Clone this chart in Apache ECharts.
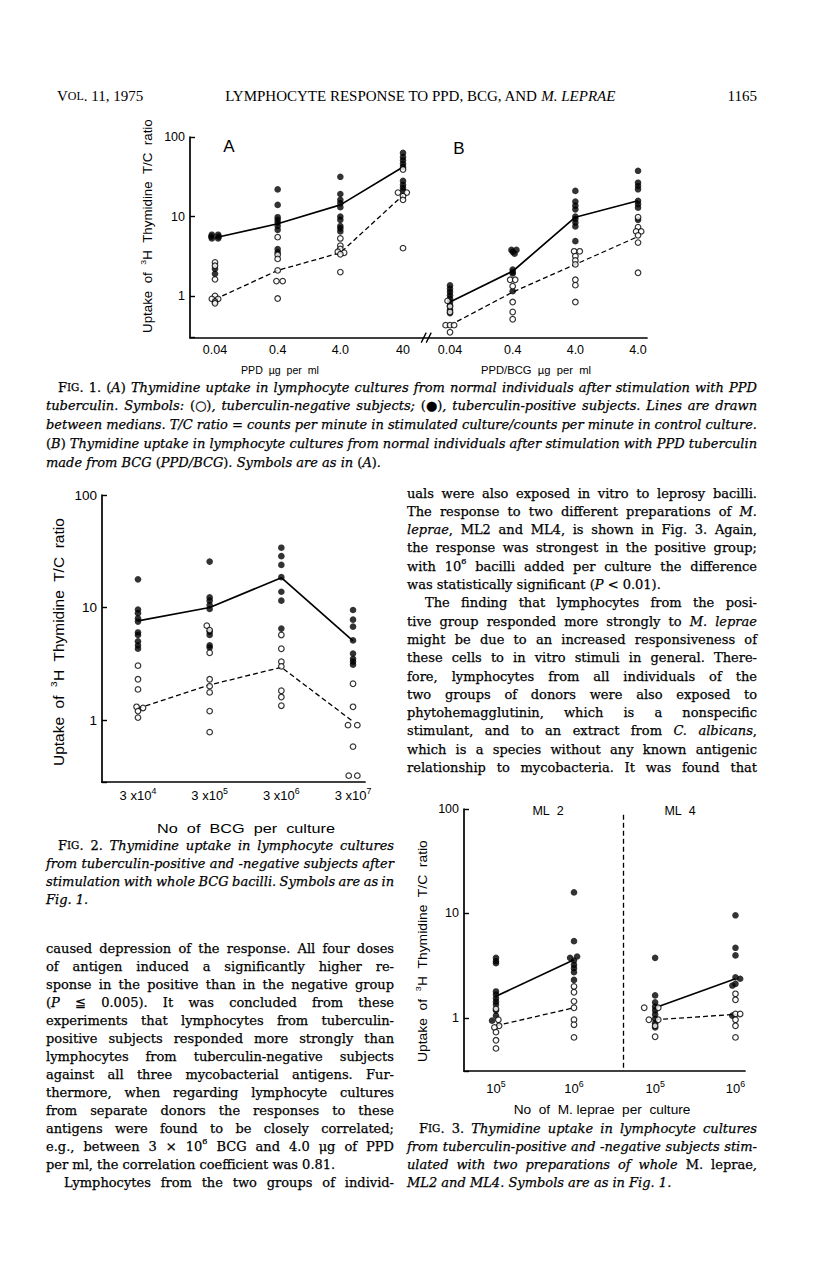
<!DOCTYPE html>
<html><head><meta charset="utf-8">
<script src="https://cdn.jsdelivr.net/npm/echarts@6/dist/echarts.min.js"></script>
<style>html,body{margin:0;padding:0;background:#fff}#c{width:816px;height:1265px}</style>
</head><body><div id="c"></div>
<script>
// ---------------- DATA ----------------
// Fig. 1 (A: PPD, B: PPD/BCG) – values per dose; [value, jitter] for side-by-side dots
const fig1LabelsA = ['0.04', '0.4', '4.0', '40'];
const fig1LabelsB = ['0.04', '0.4', '4.0', '4.0'];
const fig1PosA = [
  [[5.9,-0.05],[5.9,0.05],[5.6,-0.06],[5.6,0.06],[5.3,-0.05],[5.3,0.05],2.2,1.9,0.9],
  [21.9,14,9.8,9.1,8.4,7.6,6.8,3.9,3.55],
  [31.6,19.2,16.2,14.7,13.1,10,9.1,7.6,7.1,6.5],
  [63,56,51,46,42,28,25,23,21]
];
const fig1NegA = [
  [2.65,2.4,1.62,1.0,[0.92,-0.05],[0.92,0.05],0.85,0.81],
  [5.5,3.3,2.93,2.1,[1.54,-0.02],[1.54,0.08],0.93],
  [5.3,4.3,3.9,[3.6,-0.04],[3.5,0.06],3.35,2.0],
  [39,[20,-0.08],[20,0.06],18,16.2,4.0]
];
const fig1PosB = [
  [1.36,1.23,1.12,1.02,0.93,0.84,0.76,0.67,0.61],
  [[3.8,-0.02],[3.8,0.06],3.6,[3.4,0.03],2.15,2.0,1.92,1.15],
  [21,15.4,13.7,12.3,10,9.3,8.4,7.5,4.9],
  [37.6,26.6,24.2,22,15.7,14.3,12.9,9.1]
];
const fig1NegB = [
  [[0.87,-0.04],0.74,0.63,[0.43,-0.07],0.43,[0.43,0.065],0.35],
  [[1.6,-0.04],[1.6,0.04],1.33,0.84,0.63,0.51],
  [[3.65,-0.02],[3.65,0.07],3.17,2.8,2.5,1.6,1.37,0.84],
  [9.8,7.35,[6.5,-0.03],[6.5,0.05],5.8,4.7,1.96]
];
const fig1MedPosA = [5.4, 8.1, 14, 42];
const fig1MedNegA = [0.91, 2.1, 3.5, 18.5];
const fig1MedPosB = [0.84, 2.05, 9.8, 15.8];
const fig1MedNegB = [0.43, 1.12, 2.5, 5.6];

// Fig. 2 (whole BCG)
const fig2Labels = ['3 x10^4', '3 x10^5', '3 x10^6', '3 x10^7'];
const fig2Pos = [
  [17.8,9.6,8.9,8.0,7.5,6.0,5.7,5.0,4.6,4.3],
  [25.6,12.3,11.5,10.5,9.7,6.1,5.7,4.6,4.4],
  [34,28.6,23.9,18.6,13.8,11.5,6.5],
  [9.5,7.8,6.75,5.1,3.9,3.5,3.3,3.1]
];
const fig2Neg = [
  [3.04,2.3,1.87,[1.31,-0.02],[1.28,0.07],1.2,1.05],
  [[6.9,-0.04],6.3,3.96,2.3,2.0,1.76,1.2,0.78],
  [5.7,4.3,3.3,3.0,1.82,1.6,1.34],
  [2.1,1.31,[0.9,-0.07],[0.9,0.06],0.58,[0.32,-0.06],[0.32,0.06]]
];
const fig2MedPos = [7.6, 10, 18.4, 5.06];
const fig2MedNeg = [1.27, 2.05, 2.94, 0.97];

// Fig. 3 (M. leprae ML2, ML4)
const fig3Labels = ['10^5', '10^6', '10^5', '10^6'];
const fig3Groups = ['ML 2', 'ML 4'];
const fig3Pos = [
  [3.76,3.49,3.34,1.79,1.67,1.54,1.43,1.34,1.18,1.05,[0.94,-0.05]],
  [15.9,5.43,[3.87,0.04],[3.76,-0.05],3.54,3.22,2.99,2.74,2.31],
  [3.76,1.64,1.41,1.28,1.18,1.08,0.98,0.89,0.81],
  [9.6,4.69,3.96,2.45,[2.37,0.06],2.12,[2.04,-0.04],[1.05,-0.04]]
];
const fig3Neg = [
  [1.22,[0.96,0.03],[0.84,0.04],[0.81,-0.02],0.73,0.61,0.51],
  [2.0,1.76,1.44,1.25,0.96,0.86,0.65],
  [[1.25,-0.14],[1.25,0.04],[0.96,-0.08],[0.96,0.04],0.84,0.66],
  [1.7,1.49,[1.09,0],[1.09,0.06],0.96,0.84,0.65]
];
const fig3MedPosML2 = [1.61, 3.6];
const fig3MedNegML2 = [0.84, 1.25];
const fig3MedPosML4 = [1.25, 2.37];
const fig3MedNegML4 = [0.96, 1.08];

// ---------------- TEXT ----------------
const headerTitle = 'LYMPHOCYTE RESPONSE TO PPD, BCG, AND';
const headerTitleIt = 'M. LEPRAE';
const headerPage = '1165';
const yTitle = 'Uptake of 3H Thymidine T/C ratio';

// markup: * toggles italic, % toggles small caps, ^ toggles superscript
const fig1Caption = [
  {t:'*F%IG%. 1. (*A*)* Thymidine uptake in lymphocyte cultures from normal individuals after stimulation with PPD', ind:12},
  'tuberculin. Symbols: *(○)*, tuberculin-negative subjects; *(●)*, tuberculin-positive subjects. Lines are drawn',
  'between medians. T/C ratio = counts per minute in stimulated culture/counts per minute in control culture.',
  '*(*B*)* Thymidine uptake in lymphocyte cultures from normal individuals after stimulation with PPD tuberculin',
  {t:'made from BCG *(*PPD/BCG*)*. Symbols are as in *(*A*)*.', j:false}
];
const fig2Caption = [
  {t:'*F%IG%. 2.* Thymidine uptake in lymphocyte cultures', ind:12},
  'from tuberculin-positive and -negative subjects after',
  'stimulation with whole BCG bacilli. Symbols are as in',
  {t:'Fig. 1.', j:false}
];
const fig3Caption = [
  {t:'*F%IG%. 3.* Thymidine uptake in lymphocyte cultures', ind:12},
  'from tuberculin-positive and -negative subjects stim-',
  'ulated with two preparations of whole *M. leprae*,',
  {t:'ML2 and ML4. Symbols are as in Fig. 1.', j:false}
];
const bodyLeft = [
  'caused depression of the response. All four doses',
  'of antigen induced a significantly higher re-',
  'sponse in the positive than in the negative group',
  '(*P* ≦ 0.005). It was concluded from these',
  'experiments that lymphocytes from tuberculin-',
  'positive subjects responded more strongly than',
  'lymphocytes from tuberculin-negative subjects',
  'against all three mycobacterial antigens. Fur-',
  'thermore, when regarding lymphocyte cultures',
  'from separate donors the responses to these',
  'antigens were found to be closely correlated;',
  'e.g., between 3 × 10^6^ BCG and 4.0 μg of PPD',
  {t:'per ml, the correlation coefficient was 0.81.', j:false},
  {t:'Lymphocytes from the two groups of individ-', ind:18}
];
const bodyRight = [
  'uals were also exposed in vitro to leprosy bacilli.',
  'The response to two different preparations of *M.*',
  '*leprae*, ML2 and ML4, is shown in Fig. 3. Again,',
  'the response was strongest in the positive group;',
  'with 10^6^ bacilli added per culture the difference',
  {t:'was statistically significant (*P* < 0.01).', j:false},
  {t:'The finding that lymphocytes from the posi-', ind:18},
  'tive group responded more strongly to *M. leprae*',
  'might be due to an increased responsiveness of',
  'these cells to in vitro stimuli in general. There-',
  'fore, lymphocytes from all individuals of the',
  'two groups of donors were also exposed to',
  'phytohemagglutinin, which is a nonspecific',
  'stimulant, and to an extract from *C. albicans*,',
  'which is a species without any known antigenic',
  'relationship to mycobacteria. It was found that'
];

// ---------------- RENDER ----------------
const SANS = '"Liberation Sans", Arial, Helvetica, sans-serif';
const SERIF = '"DejaVu Serif", serif';
const HSERIF = '"Liberation Serif", "Times New Roman", serif';
const INK = '#000';
const ctx = document.createElement('canvas').getContext('2d');
function tw(text, size, italic, family) {
  ctx.font = (italic ? 'italic ' : '') + size + 'px ' + family;
  return ctx.measureText(text).width;
}
function parseWords(line, defIt) {
  let it = defIt, sc = false, sup = false, buf = '', cur = [];
  const words = [];
  const flush = () => { if (buf) { cur.push({t: buf, it, sc, sup}); buf = ''; } };
  for (const ch of line) {
    if (ch === '*') { flush(); it = !it; }
    else if (ch === '%') { flush(); sc = !sc; }
    else if (ch === '^') { flush(); sup = !sup; }
    else if (ch === ' ') { flush(); if (cur.length) words.push(cur); cur = []; }
    else buf += ch;
  }
  flush(); if (cur.length) words.push(cur);
  return words;
}
const segSize = (s, size) => s.sup ? size * 0.62 : s.sc ? size * 0.8 : size;
const segKey = s => (s.it ? 'i' : 'r') + (s.sc ? 's' : '') + (s.sup ? 'p' : '');
function richFor(size, family) {
  const r = {};
  [0,1].forEach(it => [0,1].forEach(sc => [0,1].forEach(sup => {
    const k = (it ? 'i' : 'r') + (sc ? 's' : '') + (sup ? 'p' : '');
    r[k] = {fontFamily: family, fontSize: sup ? size*0.62 : sc ? size*0.8 : size,
            fontStyle: it ? 'italic' : 'normal', fill: INK, stroke: INK, lineWidth: 0.25,
            padding: sup ? [0, 0, Math.round(size*0.7), 0] : 0};
  })));
  return r;
}
function block(lines, o) {
  const els = [];
  const rich = richFor(o.size, SERIF);
  const sp = tw(' ', o.size, false, SERIF);
  lines.forEach((ln, li) => {
    const line = typeof ln === 'string' ? {t: ln} : ln;
    const ind = line.ind || 0;
    const words = parseWords(line.t, !!o.italic);
    const widths = words.map(wd => wd.reduce((a, s) => a + tw(s.sc ? s.t.toUpperCase() : s.t, segSize(s, o.size), s.it, SERIF), 0));
    const total = widths.reduce((a, b) => a + b, 0);
    const avail = o.w - ind, n = words.length;
    let gap = sp, sc = 1;
    if (line.j !== false && n > 1) gap = (avail - total) / (n - 1);
    if (n > 1 && gap < sp * 0.55) { sc = avail / (total + (n - 1) * sp * 0.55); gap = sp * 0.55 * sc; }
    else if (line.j === false) { const nat = total + (n - 1) * sp; if (nat > avail) { sc = avail / nat; gap = sp * sc; } }
    let cx = o.x + ind; const y = o.y0 + li * o.lh;
    words.forEach((wd, wi) => {
      const text = wd.map(s => '{' + segKey(s) + '|' + (s.sc ? s.t.toUpperCase() : s.t) + '}').join('');
      els.push({type: 'text', x: cx, y: y, scaleX: sc, silent: true,
        style: {text, rich, fontFamily: SERIF, fontSize: o.size, fill: INK,
                align: 'left', verticalAlign: 'middle', textAlign: 'left', textVerticalAlign: 'middle'}});
      cx += widths[wi] * sc + gap;
    });
  });
  return els;
}
function label(x, y, text, size, opts) {
  opts = opts || {};
  const fam = opts.family || SANS;
  let sx = 1;
  if (opts.fit) sx = opts.fit / tw(opts.measure || text, size, opts.italic, fam);
  return {type: 'text', x, y, rotation: opts.rot || 0, scaleX: sx, silent: true,
    style: {text, fontFamily: fam, fontSize: size, fill: INK, fontStyle: opts.italic ? 'italic' : 'normal',
      rich: opts.rich, align: opts.align || 'center', verticalAlign: 'middle',
      textAlign: opts.align || 'center', textVerticalAlign: 'middle'}};
}
function yLabel(x, y, len, size) {
  const parts = yTitle.split(' ');
  const txt = parts.map(p => p === '3H' ? '{s|3}H' : p).join('\u00a0 ');
  const meas = parts.join('\u00a0 ').replace('3H', 'H');
  const w = tw(meas, size, false, SANS) + tw('3', size*0.65, false, SANS);
  return {type: 'text', x, y, rotation: Math.PI / 2, scaleX: len / w, silent: true,
    style: {text: txt, fontFamily: SANS, fontSize: size, fill: INK,
      rich: {s: {fontFamily: SANS, fontSize: size*0.65, fill: INK, padding: [0,0,Math.round(size*0.7),0]}},
      align: 'center', verticalAlign: 'middle', textAlign: 'center', textVerticalAlign: 'middle'}};
}

// category slot positions (layout)
const X1A = [0, 1, 2, 3], X1B = [3.75, 4.75, 5.75, 6.75];
const X2 = [0, 1, 2, 3];
const X3 = [0, 1, 2.04, 3.07];

function toPts(groups, xs) {
  const out = [];
  groups.forEach((g, i) => g.forEach(p => {
    const v = Array.isArray(p) ? p[0] : p, dx = Array.isArray(p) ? p[1] : 0;
    out.push([xs[i] + dx, v]);
  }));
  return out;
}
const filled = (gi, data) => ({type: 'scatter', xAxisIndex: gi, yAxisIndex: gi, data, symbol: 'circle', symbolSize: 6.6,
  itemStyle: {color: INK}, z: 3, silent: true});
const openS = (gi, data) => ({type: 'scatter', xAxisIndex: gi, yAxisIndex: gi, data, symbol: 'circle', symbolSize: 5.6,
  itemStyle: {color: '#fff', borderColor: INK, borderWidth: 1.2}, z: 4, silent: true});
const medLine = (gi, vals, xs, dashed) => ({type: 'line', xAxisIndex: gi, yAxisIndex: gi,
  data: vals.map((v, i) => [xs[i], v]), symbol: 'none', silent: true,
  lineStyle: {color: INK, width: dashed ? 1.3 : 1.7, type: dashed ? [5, 3] : 'solid'}, z: 2});

function supFmt(s) { const k = s.split('^'); return k.length > 1 ? k[0] + '{e|' + k[1] + '}' : s; }
function xAxisCfg(gi, min, max, vals, texts, size, margin, rich) {
  return {type: 'value', gridIndex: gi, min, max,
    axisLine: {show: true, onZero: false, lineStyle: {color: INK, width: 1.7}},
    axisTick: {show: false}, splitLine: {show: false}, minorTick: {show: false},
    axisLabel: {show: true, customValues: vals, color: INK, fontFamily: SANS, fontSize: size, margin, rich,
      formatter: v => { const i = vals.findIndex(u => Math.abs(u - v) < 1e-6); return i >= 0 ? supFmt(texts[i]) : ''; }}};
}
function yAxisCfg(gi, min, size) {
  return {type: 'log', logBase: 10, gridIndex: gi, min, max: 100,
    axisLine: {show: true, onZero: false, lineStyle: {color: INK, width: 1.7}},
    axisTick: {show: true, inside: true, length: 5, lineStyle: {color: INK, width: 1.4}},
    splitLine: {show: false}, minorTick: {show: false}, minorSplitLine: {show: false},
    axisLabel: {color: INK, fontFamily: SANS, fontSize: size, margin: 5,
      formatter: v => { const r = Math.round(v); return (r === 1 || r === 10 || r === 100) && Math.abs(v - r) < 1e-6 ? String(r) : ''; }}};
}
const supRich = size => ({e: {fontFamily: SANS, fontSize: size * 0.68, color: INK, padding: [0, 0, Math.round(size * 0.7), 0]}});

const chart = echarts.init(document.getElementById('c'), null, {renderer: 'svg', width: 816, height: 1265});

const graphics = [];
// header
graphics.push({type: 'text', x: 57, y: 96, silent: true, style: {
  text: '{a|V}{b|OL}{a|. 11, 1975}', rich: {a: {fontFamily: HSERIF, fontSize: 15, fill: INK}, b: {fontFamily: HSERIF, fontSize: 12, fill: INK}},
  align: 'left', verticalAlign: 'middle', textAlign: 'left', textVerticalAlign: 'middle'}});
graphics.push({type: 'text', x: 420, y: 96, silent: true, style: {
  text: '{a|' + headerTitle + ' }{i|' + headerTitleIt + '}', rich: {a: {fontFamily: HSERIF, fontSize: 15, fill: INK}, i: {fontFamily: HSERIF, fontSize: 15, fontStyle: 'italic', fill: INK}},
  align: 'center', verticalAlign: 'middle', textAlign: 'center', textVerticalAlign: 'middle'}});
graphics.push(label(757, 96, headerPage, 15, {family: HSERIF, align: 'right'}));

// Fig 1 annotations
graphics.push(label(229, 146, 'A', 17));
graphics.push(label(459, 148, 'B', 17));
graphics.push(label(280, 370, 'PPD\u00a0 µg\u00a0 per\u00a0 ml', 11.5, {fit: 78}));
graphics.push(label(536, 370, 'PPD/BCG\u00a0 µg\u00a0 per\u00a0 ml', 11.5, {fit: 110}));
graphics.push(yLabel(148, 226, 214, 12.5));
// Fig 2 annotations
graphics.push(label(246, 828, 'No\u00a0 of\u00a0 BCG\u00a0 per\u00a0 culture', 13.5, {fit: 178}));
graphics.push(yLabel(59, 642, 248, 14));
// Fig 3 annotations
graphics.push(label(548, 811, fig3Groups[0].replace(' ', '\u00a0 '), 12.5));
graphics.push(label(680, 811, fig3Groups[1].replace(' ', '\u00a0 '), 12.5));
graphics.push(label(602, 1110, 'No\u00a0 of\u00a0 M. leprae\u00a0 per\u00a0 culture', 12.5, {fit: 177}));
graphics.push(yLabel(423, 951, 222, 12.5));

// text blocks
graphics.push(...block(fig1Caption, {x: 46, w: 711, y0: 387, lh: 18.8, size: 13, italic: true}));
graphics.push(...block(fig2Caption, {x: 46, w: 348, y0: 845, lh: 18.3, size: 13, italic: true}));
graphics.push(...block(fig3Caption, {x: 407, w: 350, y0: 1128, lh: 18.0, size: 13, italic: true}));
graphics.push(...block(bodyLeft, {x: 46, w: 348, y0: 948, lh: 18.0, size: 13}));
graphics.push(...block(bodyRight, {x: 407, w: 350, y0: 493, lh: 18.3, size: 13}));

const option = {
  animation: false,
  backgroundColor: '#fff',
  grid: [
    {left: 190, top: 137, width: 457, height: 200.6, containLabel: false, outerBoundsMode: 'none'},
    {left: 102, top: 495, width: 263, height: 287.2, containLabel: false, outerBoundsMode: 'none'},
    {left: 464, top: 809, width: 281, height: 262, containLabel: false, outerBoundsMode: 'none'}
  ],
  xAxis: [
    xAxisCfg(0, -0.399, 6.893, X1A.concat(X1B), fig1LabelsA.concat(fig1LabelsB), 12.5, 6),
    xAxisCfg(1, -0.502, 3.167, X2, fig2Labels, 13, 4, supRich(13)),
    xAxisCfg(2, -0.41, 3.192, X3, fig3Labels, 13, 8, supRich(13))
  ],
  yAxis: [yAxisCfg(0, 0.3, 12.5), yAxisCfg(1, 0.28, 13.5), yAxisCfg(2, 0.31, 12.5)],
  series: [
    medLine(0, fig1MedPosA, X1A, false), medLine(0, fig1MedNegA, X1A, true),
    medLine(0, fig1MedPosB, X1B, false), medLine(0, fig1MedNegB, X1B, true),
    filled(0, toPts(fig1PosA, X1A).concat(toPts(fig1PosB, X1B))),
    openS(0, toPts(fig1NegA, X1A).concat(toPts(fig1NegB, X1B))),
    medLine(1, fig2MedPos, X2, false), medLine(1, fig2MedNeg, X2, true),
    filled(1, toPts(fig2Pos, X2)), openS(1, toPts(fig2Neg, X2)),
    medLine(2, fig3MedPosML2, X3.slice(0, 2), false), medLine(2, fig3MedNegML2, X3.slice(0, 2), true),
    medLine(2, fig3MedPosML4, X3.slice(2), false), medLine(2, fig3MedNegML4, X3.slice(2), true),
    filled(2, toPts(fig3Pos, X3)), openS(2, toPts(fig3Neg, X3)),
    {type: 'line', xAxisIndex: 2, yAxisIndex: 2, data: [], silent: true,
     markLine: {silent: true, symbol: ['none', 'none'], label: {show: false}, animation: false,
       lineStyle: {color: INK, type: [5, 3], width: 1.3},
       data: [[{coord: [1.63, 88]}, {coord: [1.63, 0.31]}]]}}
  ],
  graphic: {elements: graphics}
};
chart.setOption(option);

// axis break mark "//" on Fig. 1
const bp = chart.convertToPixel({xAxisIndex: 0, yAxisIndex: 0}, [3.37, 0.3]);
const brk = [-2.5, 2.5].map(d => ({type: 'line', silent: true,
  shape: {x1: bp[0] + d - 2.5, y1: bp[1] + 5, x2: bp[0] + d + 2.5, y2: bp[1] - 5},
  style: {stroke: INK, lineWidth: 1.3}}));
chart.setOption({graphic: {elements: graphics.concat(brk)}});
</script>
</body></html>
